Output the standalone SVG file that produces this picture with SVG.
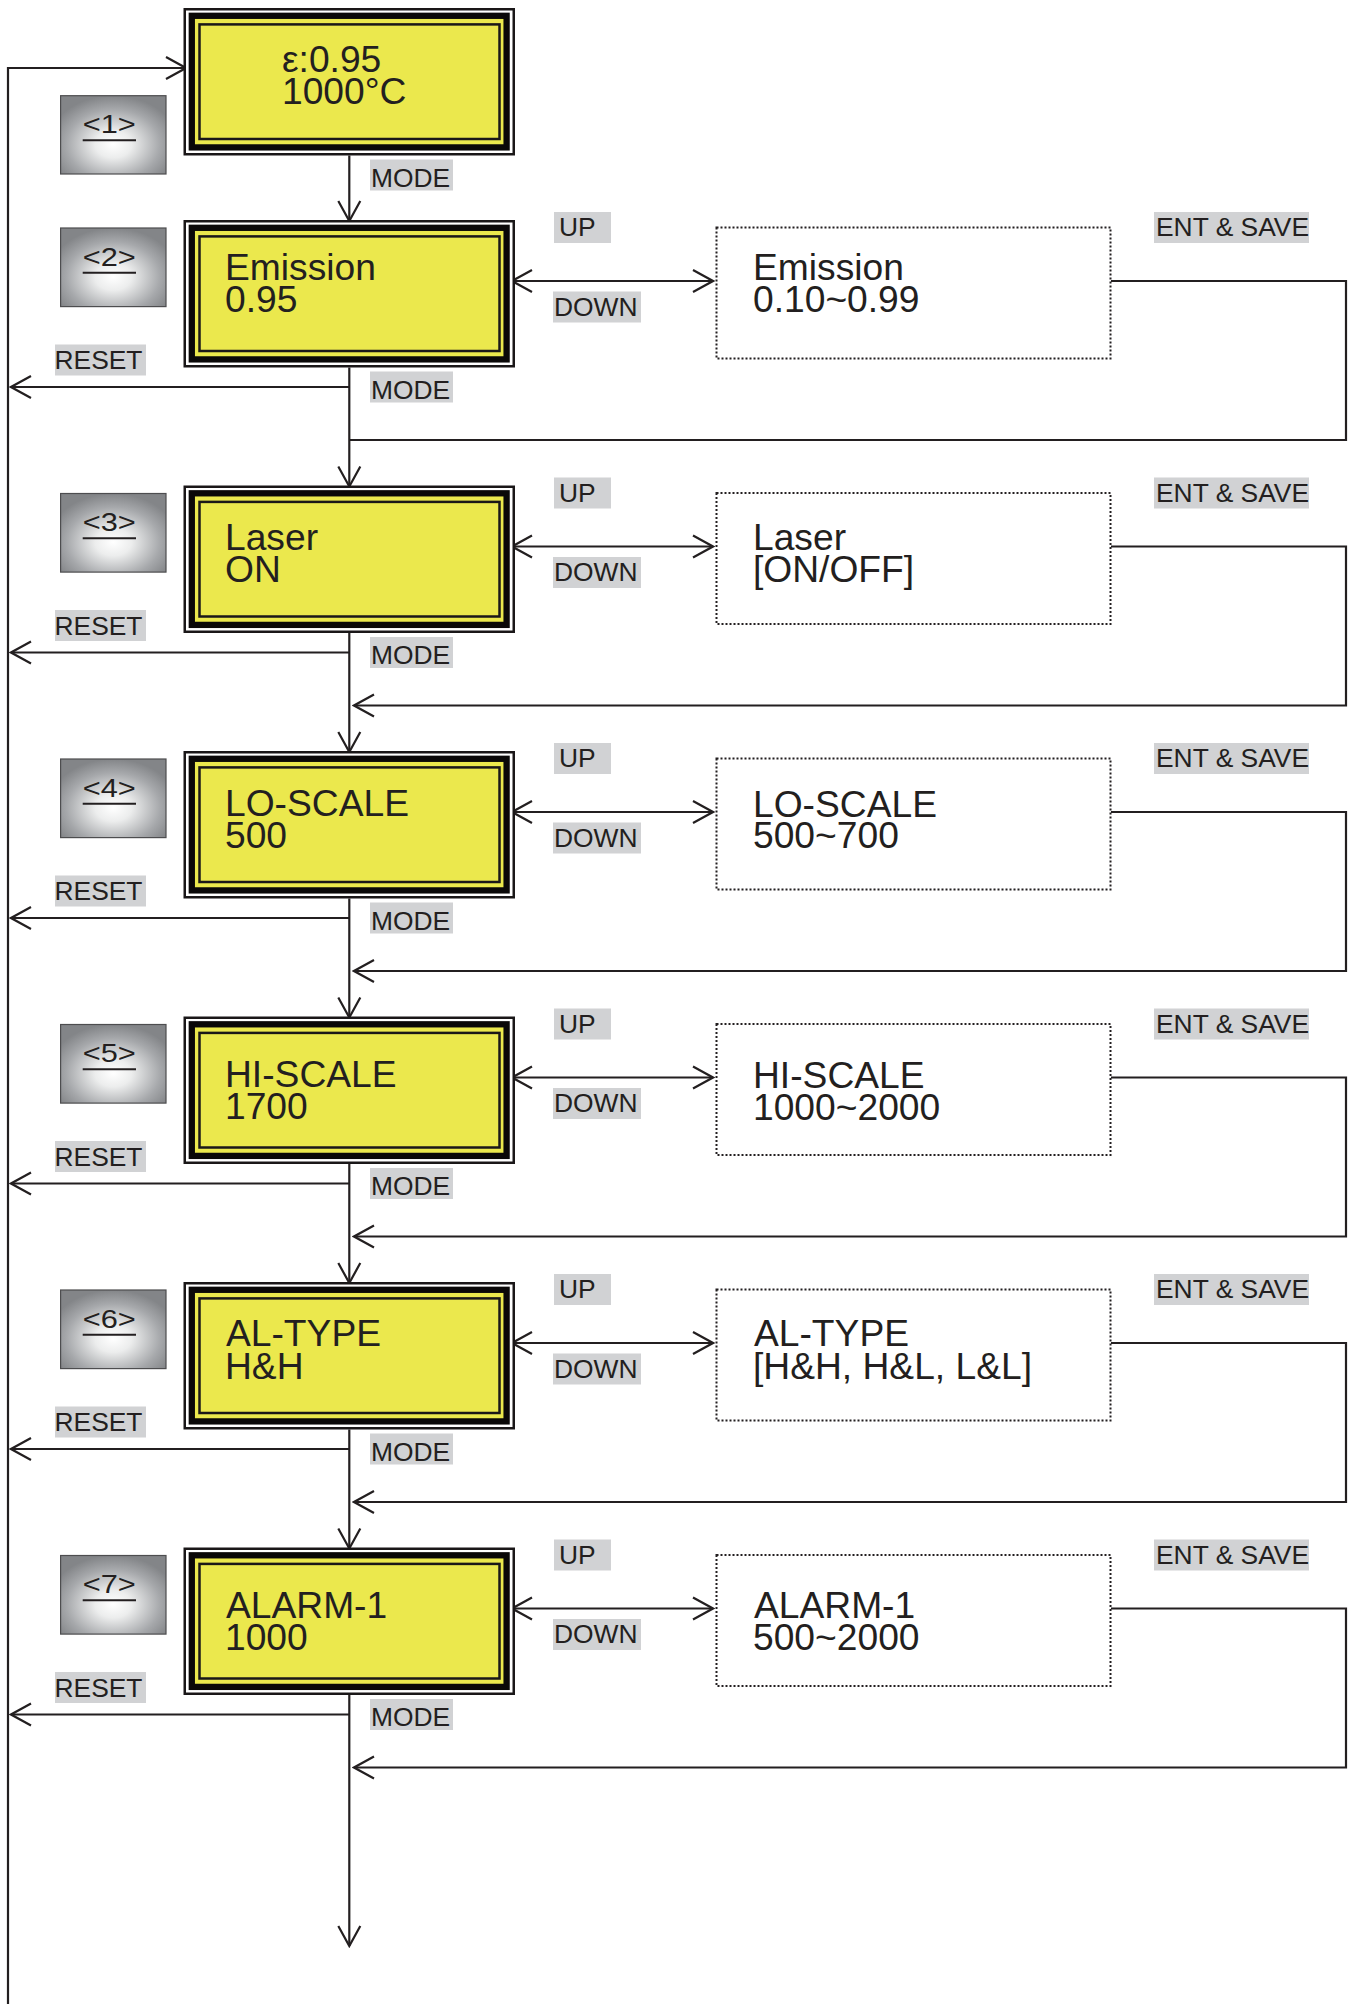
<svg xmlns="http://www.w3.org/2000/svg" width="1351" height="2004" viewBox="0 0 1351 2004">
<style>
  .f1{fill:#ffffff;stroke:#1a1718;stroke-width:2.5}
  .f2{fill:#ebe84d;stroke:#0a0808;stroke-width:6.3}
  .f3{fill:#ebe84d;stroke:#1a1718;stroke-width:2.5}
  .nt{font-family:"Liberation Sans",Arial,sans-serif;font-size:37.2px;fill:#231f20}
  .lb{font-family:"Liberation Sans",Arial,sans-serif;font-size:26.4px;fill:#231f20}
  .lbg{fill:#d1d2d4}
  .dot{fill:#ffffff;stroke:#231f20;stroke-width:2;stroke-dasharray:2 2}
  .btn{fill:url(#pillow);stroke:#4d4d4f;stroke-width:1.2}
  .bt{font-family:"Liberation Sans",Arial,sans-serif;font-size:26px;fill:#231f20}
  .ul{stroke:#231f20;stroke-width:2}
  .ln{fill:none;stroke:#231f20;stroke-width:2.2}
  .ae{marker-end:url(#ah)}
  .ab{marker-start:url(#ah);marker-end:url(#ah)}
</style>
<defs>
  <radialGradient id="pillow" cx="50%" cy="62%" r="62%">
    <stop offset="0" stop-color="#ffffff"/>
    <stop offset="0.28" stop-color="#eceded"/>
    <stop offset="0.72" stop-color="#a6a8ab"/>
    <stop offset="1" stop-color="#838588"/>
  </radialGradient>
  <marker id="ah" markerUnits="userSpaceOnUse" viewBox="-23 -13 25 26" refX="0" refY="0" markerWidth="25" markerHeight="26" orient="auto-start-reverse">
    <path d="M -20 -11 L 0 0 L -20 11" fill="none" stroke="#231f20" stroke-width="2.2"/>
  </marker>
</defs>
<rect x="0" y="0" width="1351" height="2004" fill="#ffffff"/>

<g id="connectors">
  <path class="ln ae" d="M 8 2004 V 68 H 186"/>
  <path class="ln ae" d="M 349.3 155.5 V 221"/>
  <path class="ln ae" d="M 349.3 367.5 V 486.5"/>
  <path class="ln ae" d="M 349.3 633 V 752"/>
  <path class="ln ae" d="M 349.3 898.5 V 1017.5"/>
  <path class="ln ae" d="M 349.3 1164 V 1283"/>
  <path class="ln ae" d="M 349.3 1429.5 V 1548.5"/>
  <path class="ln ae" d="M 349.3 1695 V 1946"/>
  <path class="ln ae" d="M 349.3 387 H 11"/>
  <path class="ln ae" d="M 349.3 652.5 H 11"/>
  <path class="ln ae" d="M 349.3 918 H 11"/>
  <path class="ln ae" d="M 349.3 1183.5 H 11"/>
  <path class="ln ae" d="M 349.3 1449 H 11"/>
  <path class="ln ae" d="M 349.3 1714.5 H 11"/>
  <path class="ln ab" d="M 512 281 H 713"/>
  <path class="ln ab" d="M 512 546.5 H 713"/>
  <path class="ln ab" d="M 512 812 H 713"/>
  <path class="ln ab" d="M 512 1077.5 H 713"/>
  <path class="ln ab" d="M 512 1343 H 713"/>
  <path class="ln ab" d="M 512 1608.5 H 713"/>
  <path class="ln" d="M 1111 281 H 1346 V 440 H 349.3"/>
  <path class="ln ae" d="M 1111 546.5 H 1346 V 705.5 H 354"/>
  <path class="ln ae" d="M 1111 812 H 1346 V 971 H 354"/>
  <path class="ln ae" d="M 1111 1077.5 H 1346 V 1236.5 H 354"/>
  <path class="ln ae" d="M 1111 1343 H 1346 V 1502 H 354"/>
  <path class="ln ae" d="M 1111 1608.5 H 1346 V 1767.5 H 354"/>
</g>

<g id="node1" transform="translate(0,8)">
  <rect class="f1" x="184.75" y="1.25" width="329" height="145"/>
  <rect class="f2" x="191.8" y="7.8" width="314.8" height="131.6"/>
  <rect class="f3" x="199.5" y="16.4" width="300" height="114.6"/>
  <text class="nt"><tspan x="282" y="64">ε:0.95</tspan><tspan x="282" y="96">1000°C</tspan></text>
</g>
<g id="node2" transform="translate(0,220)">
  <rect class="f1" x="184.75" y="1.25" width="329" height="145"/>
  <rect class="f2" x="191.8" y="7.8" width="314.8" height="131.6"/>
  <rect class="f3" x="199.5" y="16.4" width="300" height="114.6"/>
  <text class="nt"><tspan x="225" y="60">Emission</tspan><tspan x="225" y="92">0.95</tspan></text>
</g>
<g id="node3" transform="translate(0,485.5)">
  <rect class="f1" x="184.75" y="1.25" width="329" height="145"/>
  <rect class="f2" x="191.8" y="7.8" width="314.8" height="131.6"/>
  <rect class="f3" x="199.5" y="16.4" width="300" height="114.6"/>
  <text class="nt"><tspan x="225" y="64.5">Laser</tspan><tspan x="225" y="96.5">ON</tspan></text>
</g>
<g id="node4" transform="translate(0,751)">
  <rect class="f1" x="184.75" y="1.25" width="329" height="145"/>
  <rect class="f2" x="191.8" y="7.8" width="314.8" height="131.6"/>
  <rect class="f3" x="199.5" y="16.4" width="300" height="114.6"/>
  <text class="nt"><tspan x="225" y="65">LO-SCALE</tspan><tspan x="225" y="97">500</tspan></text>
</g>
<g id="node5" transform="translate(0,1016.5)">
  <rect class="f1" x="184.75" y="1.25" width="329" height="145"/>
  <rect class="f2" x="191.8" y="7.8" width="314.8" height="131.6"/>
  <rect class="f3" x="199.5" y="16.4" width="300" height="114.6"/>
  <text class="nt"><tspan x="225" y="70">HI-SCALE</tspan><tspan x="225" y="102.5">1700</tspan></text>
</g>
<g id="node6" transform="translate(0,1282)">
  <rect class="f1" x="184.75" y="1.25" width="329" height="145"/>
  <rect class="f2" x="191.8" y="7.8" width="314.8" height="131.6"/>
  <rect class="f3" x="199.5" y="16.4" width="300" height="114.6"/>
  <text class="nt"><tspan x="226" y="64">AL-TYPE</tspan><tspan x="225" y="96.5">H&amp;H</tspan></text>
</g>
<g id="node7" transform="translate(0,1547.5)">
  <rect class="f1" x="184.75" y="1.25" width="329" height="145"/>
  <rect class="f2" x="191.8" y="7.8" width="314.8" height="131.6"/>
  <rect class="f3" x="199.5" y="16.4" width="300" height="114.6"/>
  <text class="nt"><tspan x="226" y="70.5">ALARM-1</tspan><tspan x="225" y="102.5">1000</tspan></text>
</g>

<g id="range2" transform="translate(0,220)">
  <rect class="dot" x="716.5" y="7.5" width="394" height="131"/>
  <text class="nt"><tspan x="753" y="60">Emission</tspan><tspan x="753" y="92">0.10~0.99</tspan></text>
</g>
<g id="range3" transform="translate(0,485.5)">
  <rect class="dot" x="716.5" y="7.5" width="394" height="131"/>
  <text class="nt"><tspan x="753" y="64.5">Laser</tspan><tspan x="753" y="96.5">[ON/OFF]</tspan></text>
</g>
<g id="range4" transform="translate(0,751)">
  <rect class="dot" x="716.5" y="7.5" width="394" height="131"/>
  <text class="nt"><tspan x="753" y="65.5">LO-SCALE</tspan><tspan x="753" y="97">500~700</tspan></text>
</g>
<g id="range5" transform="translate(0,1016.5)">
  <rect class="dot" x="716.5" y="7.5" width="394" height="131"/>
  <text class="nt"><tspan x="753" y="71">HI-SCALE</tspan><tspan x="753" y="103">1000~2000</tspan></text>
</g>
<g id="range6" transform="translate(0,1282)">
  <rect class="dot" x="716.5" y="7.5" width="394" height="131"/>
  <text class="nt"><tspan x="754" y="64">AL-TYPE</tspan><tspan x="753" y="96.5">[H&amp;H, H&amp;L, L&amp;L]</tspan></text>
</g>
<g id="range7" transform="translate(0,1547.5)">
  <rect class="dot" x="716.5" y="7.5" width="394" height="131"/>
  <text class="nt"><tspan x="754" y="70.5">ALARM-1</tspan><tspan x="753" y="102.5">500~2000</tspan></text>
</g>

<g id="btn1" transform="translate(0,95.7)">
  <rect class="btn" x="60.6" y="0" width="105.4" height="78.3"/>
  <text class="bt" x="82.7" y="37.2" textLength="53" lengthAdjust="spacingAndGlyphs">&lt;1&gt;</text>
  <line class="ul" x1="82.7" y1="44.6" x2="136" y2="44.6"/>
</g>
<g id="btn2" transform="translate(0,228)">
  <rect class="btn" x="60.6" y="0" width="105.4" height="78.6"/>
  <text class="bt" x="82.7" y="37.5" textLength="53" lengthAdjust="spacingAndGlyphs">&lt;2&gt;</text>
  <line class="ul" x1="82.7" y1="44.8" x2="136" y2="44.8"/>
</g>
<g id="btn3" transform="translate(0,493.5)">
  <rect class="btn" x="60.6" y="0" width="105.4" height="78.6"/>
  <text class="bt" x="82.7" y="37.5" textLength="53" lengthAdjust="spacingAndGlyphs">&lt;3&gt;</text>
  <line class="ul" x1="82.7" y1="44.8" x2="136" y2="44.8"/>
</g>
<g id="btn4" transform="translate(0,759)">
  <rect class="btn" x="60.6" y="0" width="105.4" height="78.6"/>
  <text class="bt" x="82.7" y="37.5" textLength="53" lengthAdjust="spacingAndGlyphs">&lt;4&gt;</text>
  <line class="ul" x1="82.7" y1="44.8" x2="136" y2="44.8"/>
</g>
<g id="btn5" transform="translate(0,1024.5)">
  <rect class="btn" x="60.6" y="0" width="105.4" height="78.6"/>
  <text class="bt" x="82.7" y="37.5" textLength="53" lengthAdjust="spacingAndGlyphs">&lt;5&gt;</text>
  <line class="ul" x1="82.7" y1="44.8" x2="136" y2="44.8"/>
</g>
<g id="btn6" transform="translate(0,1290)">
  <rect class="btn" x="60.6" y="0" width="105.4" height="78.6"/>
  <text class="bt" x="82.7" y="37.5" textLength="53" lengthAdjust="spacingAndGlyphs">&lt;6&gt;</text>
  <line class="ul" x1="82.7" y1="44.8" x2="136" y2="44.8"/>
</g>
<g id="btn7" transform="translate(0,1555.5)">
  <rect class="btn" x="60.6" y="0" width="105.4" height="78.6"/>
  <text class="bt" x="82.7" y="37.5" textLength="53" lengthAdjust="spacingAndGlyphs">&lt;7&gt;</text>
  <line class="ul" x1="82.7" y1="44.8" x2="136" y2="44.8"/>
</g>

<g id="labels">
  <g transform="translate(0,155.5)"><rect class="lbg" x="370" y="4" width="83" height="31"/><text class="lb" x="371" y="31">MODE</text></g>
  <g transform="translate(0,367.5)"><rect class="lbg" x="370" y="4" width="83" height="31"/><text class="lb" x="371" y="31">MODE</text></g>
  <g transform="translate(0,633)"><rect class="lbg" x="370" y="4" width="83" height="31"/><text class="lb" x="371" y="31">MODE</text></g>
  <g transform="translate(0,898.5)"><rect class="lbg" x="370" y="4" width="83" height="31"/><text class="lb" x="371" y="31">MODE</text></g>
  <g transform="translate(0,1164)"><rect class="lbg" x="370" y="4" width="83" height="31"/><text class="lb" x="371" y="31">MODE</text></g>
  <g transform="translate(0,1429.5)"><rect class="lbg" x="370" y="4" width="83" height="31"/><text class="lb" x="371" y="31">MODE</text></g>
  <g transform="translate(0,1695)"><rect class="lbg" x="370" y="4" width="83" height="31"/><text class="lb" x="371" y="31">MODE</text></g>

  <g transform="translate(0,220)">
    <rect class="lbg" x="55" y="124.5" width="91" height="31"/><text class="lb" x="54.5" y="149">RESET</text>
    <rect class="lbg" x="554" y="-8" width="57" height="31"/><text class="lb" x="559" y="16">UP</text>
    <rect class="lbg" x="553" y="71.5" width="88" height="31"/><text class="lb" x="554" y="95.5">DOWN</text>
    <rect class="lbg" x="1154" y="-8" width="155" height="31"/><text class="lb" x="1156" y="16">ENT &amp; SAVE</text>
  </g>
  <g transform="translate(0,485.5)">
    <rect class="lbg" x="55" y="124.5" width="91" height="31"/><text class="lb" x="54.5" y="149">RESET</text>
    <rect class="lbg" x="554" y="-8" width="57" height="31"/><text class="lb" x="559" y="16">UP</text>
    <rect class="lbg" x="553" y="71.5" width="88" height="31"/><text class="lb" x="554" y="95.5">DOWN</text>
    <rect class="lbg" x="1154" y="-8" width="155" height="31"/><text class="lb" x="1156" y="16">ENT &amp; SAVE</text>
  </g>
  <g transform="translate(0,751)">
    <rect class="lbg" x="55" y="124.5" width="91" height="31"/><text class="lb" x="54.5" y="149">RESET</text>
    <rect class="lbg" x="554" y="-8" width="57" height="31"/><text class="lb" x="559" y="16">UP</text>
    <rect class="lbg" x="553" y="71.5" width="88" height="31"/><text class="lb" x="554" y="95.5">DOWN</text>
    <rect class="lbg" x="1154" y="-8" width="155" height="31"/><text class="lb" x="1156" y="16">ENT &amp; SAVE</text>
  </g>
  <g transform="translate(0,1016.5)">
    <rect class="lbg" x="55" y="124.5" width="91" height="31"/><text class="lb" x="54.5" y="149">RESET</text>
    <rect class="lbg" x="554" y="-8" width="57" height="31"/><text class="lb" x="559" y="16">UP</text>
    <rect class="lbg" x="553" y="71.5" width="88" height="31"/><text class="lb" x="554" y="95.5">DOWN</text>
    <rect class="lbg" x="1154" y="-8" width="155" height="31"/><text class="lb" x="1156" y="16">ENT &amp; SAVE</text>
  </g>
  <g transform="translate(0,1282)">
    <rect class="lbg" x="55" y="124.5" width="91" height="31"/><text class="lb" x="54.5" y="149">RESET</text>
    <rect class="lbg" x="554" y="-8" width="57" height="31"/><text class="lb" x="559" y="16">UP</text>
    <rect class="lbg" x="553" y="71.5" width="88" height="31"/><text class="lb" x="554" y="95.5">DOWN</text>
    <rect class="lbg" x="1154" y="-8" width="155" height="31"/><text class="lb" x="1156" y="16">ENT &amp; SAVE</text>
  </g>
  <g transform="translate(0,1547.5)">
    <rect class="lbg" x="55" y="124.5" width="91" height="31"/><text class="lb" x="54.5" y="149">RESET</text>
    <rect class="lbg" x="554" y="-8" width="57" height="31"/><text class="lb" x="559" y="16">UP</text>
    <rect class="lbg" x="553" y="71.5" width="88" height="31"/><text class="lb" x="554" y="95.5">DOWN</text>
    <rect class="lbg" x="1154" y="-8" width="155" height="31"/><text class="lb" x="1156" y="16">ENT &amp; SAVE</text>
  </g>
</g>
</svg>
